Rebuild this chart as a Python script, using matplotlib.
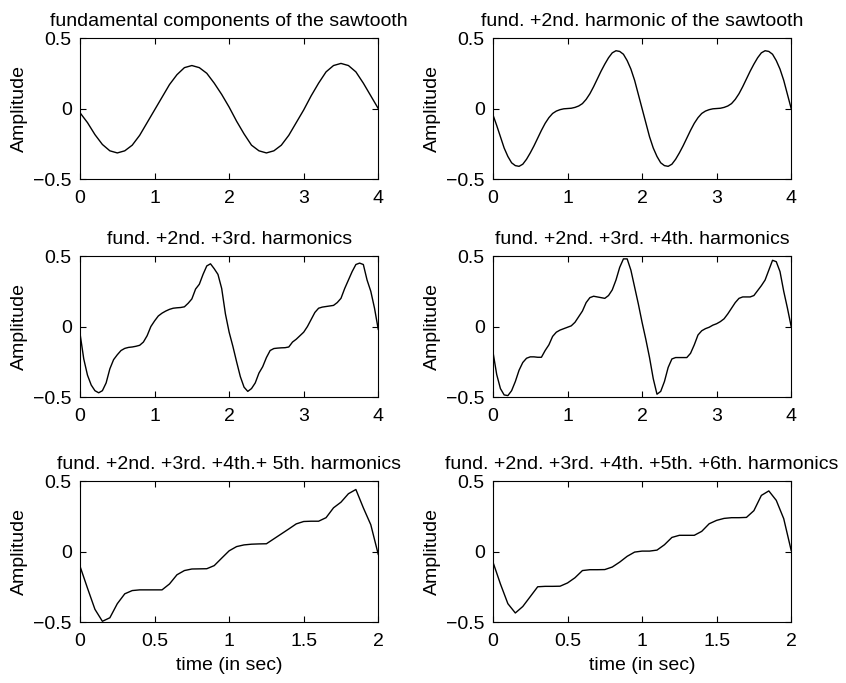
import numpy as np
import matplotlib
matplotlib.use('Agg')
import matplotlib.pyplot as plt

plt.rcParams['font.family'] = ['Liberation Sans', 'DejaVu Sans']
plt.rcParams['font.size'] = 14

# time grids
t_coarse = np.round(np.arange(41) * 0.1, 2)   # 0..4 s
t_fine = np.round(np.arange(81) * 0.05, 2)    # 0..4 s
t_short = np.round(np.arange(41) * 0.05, 2)   # 0..2 s

# fundamental only
y1 = [-0.03, -0.10, -0.185, -0.255, -0.30, -0.315, -0.30, -0.26, -0.19, -0.10,
      -0.01, 0.08, 0.17, 0.24, 0.29, 0.305, 0.29, 0.25, 0.18, 0.10,
      0.01, -0.09, -0.18, -0.26, -0.30, -0.315, -0.30, -0.26, -0.19, -0.10,
      -0.01, 0.09, 0.18, 0.26, 0.305, 0.32, 0.305, 0.26, 0.18, 0.09, 0.0]

# fund + 2nd
y2 = [-0.045, -0.12, -0.20, -0.28, -0.34, -0.385, -0.405, -0.41, -0.395, -0.36,
      -0.315, -0.265, -0.21, -0.155, -0.105, -0.065, -0.035, -0.018, -0.008, -0.002,
      0.0, 0.002, 0.008, 0.018, 0.035, 0.065, 0.105, 0.155, 0.21, 0.265,
      0.315, 0.36, 0.395, 0.41, 0.405, 0.385, 0.34, 0.28, 0.20, 0.10,
      0.0, -0.10, -0.20, -0.28, -0.34, -0.385, -0.405, -0.41, -0.395, -0.36,
      -0.315, -0.265, -0.21, -0.155, -0.105, -0.065, -0.035, -0.018, -0.008, -0.002,
      0.0, 0.002, 0.008, 0.018, 0.035, 0.065, 0.105, 0.155, 0.21, 0.265,
      0.315, 0.36, 0.395, 0.41, 0.405, 0.385, 0.34, 0.28, 0.20, 0.10, 0.0]

# fund + 2nd + 3rd
y3 = [-0.05, -0.23, -0.345, -0.415, -0.455, -0.47, -0.455, -0.40, -0.30, -0.235,
      -0.20, -0.17, -0.155, -0.148, -0.145, -0.14, -0.133, -0.11, -0.065, 0.0,
      0.04, 0.075, 0.095, 0.11, 0.122, 0.13, 0.133, 0.135, 0.14, 0.165,
      0.196, 0.266, 0.30, 0.37, 0.43, 0.445, 0.41, 0.37, 0.27, 0.09,
      -0.04, -0.14, -0.25, -0.355, -0.43, -0.46, -0.44, -0.40, -0.33, -0.285,
      -0.22, -0.17, -0.156, -0.153, -0.151, -0.15, -0.145, -0.11, -0.09, -0.065,
      -0.04, 0.0, 0.05, 0.10, 0.13, 0.138, 0.142, 0.146, 0.15, 0.17,
      0.20, 0.27, 0.33, 0.39, 0.44, 0.45, 0.44, 0.33, 0.25, 0.13, -0.02]

# fund + 2nd + 3rd + 4th
y4 = [-0.18, -0.34, -0.44, -0.485, -0.49, -0.455, -0.39, -0.31, -0.255, -0.225,
      -0.215, -0.215, -0.218, -0.218, -0.17, -0.13, -0.07, -0.04, -0.025, -0.015,
      -0.005, 0.005, 0.03, 0.07, 0.11, 0.17, 0.205, 0.215, 0.21, 0.205,
      0.20, 0.22, 0.26, 0.33, 0.42, 0.48, 0.48, 0.40, 0.28, 0.16,
      0.03, -0.09, -0.22, -0.37, -0.48, -0.46, -0.39, -0.29, -0.23, -0.22,
      -0.22, -0.22, -0.22, -0.19, -0.13, -0.06, -0.03, -0.015, -0.005, 0.01,
      0.02, 0.035, 0.055, 0.09, 0.13, 0.17, 0.20, 0.21, 0.21, 0.21,
      0.22, 0.255, 0.29, 0.33, 0.40, 0.47, 0.46, 0.39, 0.25, 0.13, 0.0]

# up to 5th
y5 = [-0.105, -0.26, -0.41, -0.495, -0.47, -0.37, -0.30, -0.277, -0.272, -0.272,
      -0.272, -0.272, -0.23, -0.165, -0.135, -0.124, -0.123, -0.122, -0.10, -0.047,
      0.005, 0.035, 0.047, 0.052, 0.054, 0.055, 0.09, 0.125, 0.16, 0.196,
      0.213, 0.215, 0.215, 0.24, 0.31, 0.35, 0.41, 0.44, 0.31, 0.19, -0.02]

# up to 6th
y6 = [-0.075, -0.23, -0.37, -0.436, -0.39, -0.32, -0.25, -0.247, -0.247, -0.246,
      -0.223, -0.186, -0.135, -0.129, -0.129, -0.128, -0.11, -0.075, -0.034, -0.004,
      0.003, 0.003, 0.01, 0.048, 0.10, 0.115, 0.115, 0.115, 0.143, 0.197,
      0.221, 0.235, 0.24, 0.24, 0.242, 0.29, 0.398, 0.43, 0.363, 0.233, 0.008]

titles = ['fundamental components of the sawtooth',
          'fund. +2nd. harmonic of the sawtooth',
          'fund. +2nd. +3rd. harmonics',
          'fund. +2nd. +3rd. +4th. harmonics',
          'fund. +2nd. +3rd. +4th.+ 5th. harmonics',
          'fund. +2nd. +3rd. +4th. +5th. +6th. harmonics']

panels = [(t_coarse, y1), (t_fine, y2), (t_fine, y3),
          (t_fine, y4), (t_short, y5), (t_short, y6)]

fig = plt.figure(figsize=(8.46, 6.83), dpi=100)

lefts = [0.0946, 0.5827]
bottoms = [0.7379, 0.4187, 0.0893]
w, h = 0.3525, 0.2064

for i, (tt, yy) in enumerate(panels):
    r, c = divmod(i, 2)
    ax = fig.add_axes([lefts[c], bottoms[r], w, h])
    ax.plot(tt, yy, color='black', linewidth=1.0)
    ax.set_ylim(-0.5, 0.5)
    ax.set_yticks([-0.5, 0, 0.5])
    ax.set_yticklabels(['\u22120.5', '0', '0.5'])
    if r < 2:
        ax.set_xlim(0, 4)
        ax.set_xticks([0, 1, 2, 3, 4])
    else:
        ax.set_xlim(0, 2)
        ax.set_xticks([0, 0.5, 1, 1.5, 2])
        ax.set_xticklabels(['0', '0.5', '1', '1.5', '2'])
        ax.set_xlabel('time (in sec)', labelpad=5)
    ax.set_ylabel('Amplitude')
    ax.set_title(titles[i], fontsize=14, pad=9)
    ax.tick_params(direction='in', top=True, right=True, length=4, width=0.8)
    ax.tick_params(axis='x', pad=8)
    ax.tick_params(axis='y', pad=6)
    for s in ax.spines.values():
        s.set_linewidth(0.8)

fig.savefig('out.png', dpi=100)
